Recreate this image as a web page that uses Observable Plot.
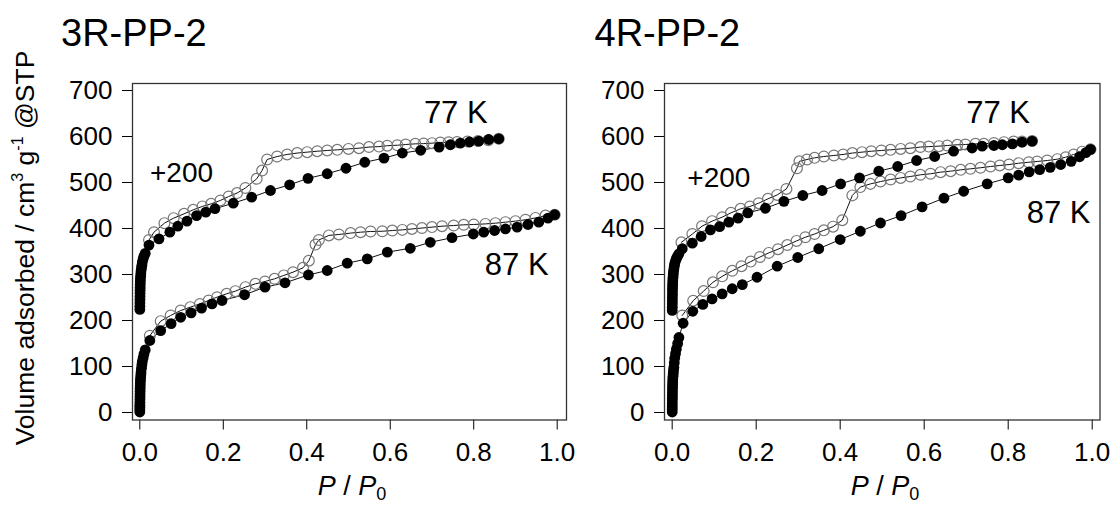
<!DOCTYPE html>
<html>
<head>
<meta charset="utf-8">
<script src="https://cdn.jsdelivr.net/npm/d3@7"></script>
<script src="https://cdn.jsdelivr.net/npm/@observablehq/plot@0.6"></script>
<style>
  html, body { margin: 0; padding: 0; background: #fff; }
  #chart { position: relative; width: 1118px; height: 505px; overflow: hidden; font-family: "Liberation Sans", Arial, sans-serif; color: #000; }
  .panel { position: absolute; top: 0; }
  .title { position: absolute; font-size: 38px; line-height: 1; white-space: nowrap; }
  .xlab { position: absolute; font-size: 27px; line-height: 1; white-space: nowrap; transform: translateX(-50%); }
  .xlab sub { font-size: 18px; vertical-align: -5px; line-height: 0; font-style: normal; }
  .ylab { position: absolute; font-size: 26.5px; line-height: 1; white-space: nowrap; transform: translate(-50%, -50%) rotate(-90deg); }
  .ylab sup { font-size: 16px; vertical-align: 11px; line-height: 0; }
</style>
</head>
<body>
<div id="chart"></div>
<script>
// ---------- data (P/P0 and adsorbed volume, cm3 g-1 STP) ----------
const xTicks = [0, 0.2, 0.4, 0.6, 0.8, 1.0];
const yTicks = [0, 100, 200, 300, 400, 500, 600, 700];
const offset77 = 200; // 77 K isotherms shifted by +200

// 3R-PP-2, 77 K adsorption (true values, shown +200)
const p3R77ads = [0.0001,0.0002,0.0003,0.0004,0.0005,0.0006,0.0007,0.0008,0.001,0.0012,0.0015,0.002,0.0025,0.003,0.004,0.005,0.006,0.008,0.010,0.013,
  0.022,0.046,0.072,0.091,0.113,0.136,0.158,0.18,0.224,0.268,0.313,0.359,0.403,0.449,0.494,0.539,0.585,0.629,0.673,0.717,0.744,0.768,0.79,0.812,0.836,0.86];
const v3R77ads = [24,31,38,45,52,59,66,72,78,84,90,96,102,108,114,120,127,134,140,146,
  164,177.5,192,205,216,228,235.5,243,255,268,282.6,295,309,319,331,344,353,364,370,377,382,385.5,388,390,393.5,395];
// 3R-PP-2, 77 K desorption
const p3R77des = [0.86,0.835,0.81,0.785,0.76,0.74,0.72,0.70,0.68,0.66,0.637,0.617,0.593,0.573,0.549,0.525,0.50,0.473,0.449,0.425,0.401,0.377,0.353,0.329,0.305,0.293,0.28,0.253,0.233,0.213,0.193,0.171,0.15,0.128,0.106,0.081,0.059,0.034,0.022];
const v3R77des = [395,392,390,389,388,387.5,387,385.5,384.5,384,382.6,381,380,378,377,374.6,373,371,369.6,368,366,364,361,356.5,350,326,308,288,277,269.6,261,253.6,248,240.6,232,222.5,211.6,192,175];
// 3R-PP-2, 87 K adsorption
const p3R87ads = [0.00005,0.0001,0.00015,0.0002,0.0003,0.0004,0.0005,0.0006,0.0007,0.0008,0.001,0.0012,0.0015,0.002,0.0025,0.003,0.004,0.005,0.006,0.008,0.010,0.013,
  0.024,0.05,0.075,0.098,0.123,0.148,0.173,0.197,0.251,0.30,0.348,0.404,0.449,0.497,0.545,0.593,0.648,0.696,0.748,0.799,0.824,0.85,0.876,0.904,0.93,0.956,0.978,0.994];
const v3R87ads = [1,6,11,16,22,28,34,40,46,52,58,64,70,76,82,88,96,104,111,119,127,136,
  156.5,178,193,207,216.7,227,236,243.5,256,272.5,282,299,308.7,324.6,334,348.6,357,370,380,388,392,395.6,399,403,408.7,413.8,422.5,430];
// 3R-PP-2, 87 K desorption
const p3R87des = [0.994,0.972,0.948,0.924,0.90,0.876,0.852,0.828,0.80,0.776,0.752,0.724,0.70,0.676,0.652,0.629,0.605,0.581,0.553,0.529,0.505,0.477,0.453,0.429,0.421,0.405,0.391,0.367,0.345,0.323,0.30,0.277,0.253,0.229,0.208,0.185,0.165,0.144,0.121,0.098,0.074,0.05,0.024];
const v3R87des = [430,428,423,419,416,413.8,411.6,410,408.7,408,406.5,405,403,401,399,397,395.6,394,393.5,392,390,387,385,375,365,330,314.5,305,298,290.6,284.8,279.7,272.5,263.8,258,250.7,243.5,236,229,221.7,211,198.6,167];

// 4R-PP-2, 77 K adsorption (true values, shown +200)
const p4R77ads = [0.0001,0.0002,0.0003,0.0004,0.0005,0.0006,0.0007,0.0008,0.001,0.0012,0.0015,0.002,0.0025,0.003,0.004,0.005,0.006,0.008,0.010,0.013,0.016,
  0.024,0.048,0.069,0.091,0.113,0.135,0.157,0.18,0.222,0.266,0.311,0.357,0.401,0.446,0.492,0.537,0.582,0.625,0.67,0.714,0.738,0.766,0.786,0.81,0.833,0.857];
const v4R77ads = [22,29,36,43,50,57,64,70,76,82,88,94,100,106,112,118,124,130,135,140,145,
  156,168,182.6,197,204,213.8,222.5,234,244,259,271.7,282.6,297,310,324.6,334.8,347.8,356.5,368,375,379,380.4,382,384,387.7,390];
// 4R-PP-2, 77 K desorption
const p4R77des = [0.857,0.833,0.813,0.79,0.766,0.742,0.722,0.698,0.679,0.655,0.635,0.611,0.591,0.567,0.544,0.52,0.498,0.474,0.452,0.429,0.407,0.385,0.361,0.339,0.321,0.303,0.297,0.272,0.25,0.228,0.206,0.185,0.163,0.14,0.119,0.095,0.071,0.048,0.022];
const v4R77des = [390,389,389,387.7,386,384,384,382.6,382,380.4,379,378,377,374.6,373,371,369.6,368,366,364,361,358.7,356.5,353.6,350,346,331,286,273,264.5,255,247.8,242.8,234,224.6,216,205,188,170];
// 4R-PP-2, 87 K adsorption
const p4R87ads = [0.00005,0.0001,0.00015,0.0002,0.0003,0.0004,0.0005,0.0006,0.0007,0.0008,0.001,0.0012,0.0015,0.002,0.0025,0.003,0.004,0.005,0.006,0.008,0.010,0.013,0.016,
  0.026,0.049,0.073,0.095,0.119,0.143,0.167,0.202,0.25,0.299,0.349,0.40,0.448,0.496,0.545,0.595,0.647,0.694,0.75,0.80,0.825,0.85,0.875,0.90,0.925,0.95,0.97,0.985,0.996];
const v4R87ads = [1,7,13,19,25,31,37,43,49,55,61,67,73,79,85,91,98,108,118,128,138,150,163,
  194,220,235,247,258,269,278,294,318,337,356,376,394,412,428,447,466,481,497,510,516,523,528,533,539,546,556,565,572];
// 4R-PP-2, 87 K desorption
const p4R87des = [0.996,0.976,0.956,0.937,0.917,0.893,0.869,0.849,0.825,0.802,0.78,0.758,0.734,0.71,0.687,0.663,0.639,0.615,0.591,0.567,0.544,0.52,0.496,0.472,0.448,0.429,0.405,0.383,0.361,0.339,0.317,0.296,0.274,0.252,0.23,0.209,0.187,0.165,0.143,0.119,0.097,0.075,0.05,0.024];
const v4R87des = [572,567,561,555,550.7,547.8,545.7,544,542,539,537,534.8,532,529.7,527.5,524.6,522.5,519,516.7,513,510,506.5,502,497,490,472,418,404,396,388,381,373,364,355,347,338,328,318,308,296,283,264,243,211];

// annotation labels (data coordinates)
const annText = ["77 K", "87 K", "+200"];
const annSize = [31, 31, 28];
const ann3RP = [0.757, 0.903, 0.10];
const ann3RV = [651, 321, 520];
const ann4RP = [0.776, 0.92, 0.111];
const ann4RV = [651, 434, 510];

// ---------- drawing ----------
const FONT = '"Liberation Sans", Arial, sans-serif';
const toRows = (P, V, off = 0) => P.map((p, i) => ({p, v: V[i] + off}));

function panel(cfg) {
  const ads77 = toRows(cfg.p77a, cfg.v77a, offset77);
  const des77 = toRows(cfg.p77d, cfg.v77d, offset77);
  const ads87 = toRows(cfg.p87a, cfg.v87a);
  const des87 = toRows(cfg.p87d, cfg.v87d);
  const ann = annText.map((t, i) => ({t, p: cfg.annP[i], v: cfg.annV[i], s: annSize[i]}));
  const lineOpt = {x: "p", y: "v", stroke: "#111", strokeWidth: 1};
  const openOpt = {x: "p", y: "v", r: 5.4, fill: "none", stroke: "#777", strokeWidth: 1.2};
  const fillOpt = {x: "p", y: "v", r: 5.4, fill: "#000", stroke: "none"};
  return Plot.plot({
    width: cfg.width, height: 505,
    marginLeft: cfg.ml, marginRight: cfg.mr, marginTop: 83, marginBottom: 85.5,
    x: {domain: cfg.xdom, ticks: xTicks},
    y: {domain: [-16.3, 715.2], ticks: yTicks},
    style: {fontFamily: FONT, fontSize: "26px", color: "#000", background: "transparent", overflow: "visible"},
    marks: [
      Plot.axisX({ticks: xTicks, tickFormat: d3.format(".1f"), tickSize: 10, tickPadding: 13, label: null, fontSize: 26}),
      Plot.axisY({ticks: yTicks, tickSize: 10, tickPadding: 10, label: null, fontSize: 26}),
      Plot.line(des77, lineOpt),
      Plot.line(ads77, lineOpt),
      Plot.line(des87, lineOpt),
      Plot.line(ads87, lineOpt),
      Plot.dot(des77, openOpt),
      Plot.dot(des87, openOpt),
      Plot.dot(ads77, fillOpt),
      Plot.dot(ads87, fillOpt),
      Plot.text(ann, {x: "p", y: "v", text: "t", fontSize: d => d.s, fill: "#000", fontFamily: FONT}),
      Plot.frame({stroke: "#333", strokeWidth: 1.3})
    ]
  });
}

const chart = document.getElementById("chart");

const left = panel({width: 580, ml: 132, mr: 14, xdom: [-0.0175, 1.0223],
  p77a: p3R77ads, v77a: v3R77ads, p77d: p3R77des, v77d: v3R77des,
  p87a: p3R87ads, v87a: v3R87ads, p87d: p3R87des, v87d: v3R87des,
  annP: ann3RP, annV: ann3RV});
left.classList.add("panel"); left.style.left = "0px";
chart.appendChild(left);

const right = panel({width: 538, ml: 84, mr: 18.5, xdom: [-0.0183, 1.0186],
  p77a: p4R77ads, v77a: v4R77ads, p77d: p4R77des, v77d: v4R77des,
  p87a: p4R87ads, v87a: v4R87ads, p87d: p4R87des, v87d: v4R87des,
  annP: ann4RP, annV: ann4RV});
right.classList.add("panel"); right.style.left = "580px";
chart.appendChild(right);

function addDiv(cls, html, css) {
  const d = document.createElement("div");
  d.className = cls; d.innerHTML = html;
  Object.assign(d.style, css);
  chart.appendChild(d);
}
addDiv("title", "3R-PP-2", {left: "61px", top: "13.5px"});
addDiv("title", "4R-PP-2", {left: "594.5px", top: "13.5px"});
addDiv("xlab", "<i>P</i> / <i>P</i><sub>0</sub>", {left: "352px", top: "473px"});
addDiv("xlab", "<i>P</i> / <i>P</i><sub>0</sub>", {left: "885px", top: "473px"});
addDiv("ylab", "Volume adsorbed / cm<sup>3</sup> g<sup>-1</sup> @STP", {left: "25px", top: "248px"});
</script>
</body>
</html>
